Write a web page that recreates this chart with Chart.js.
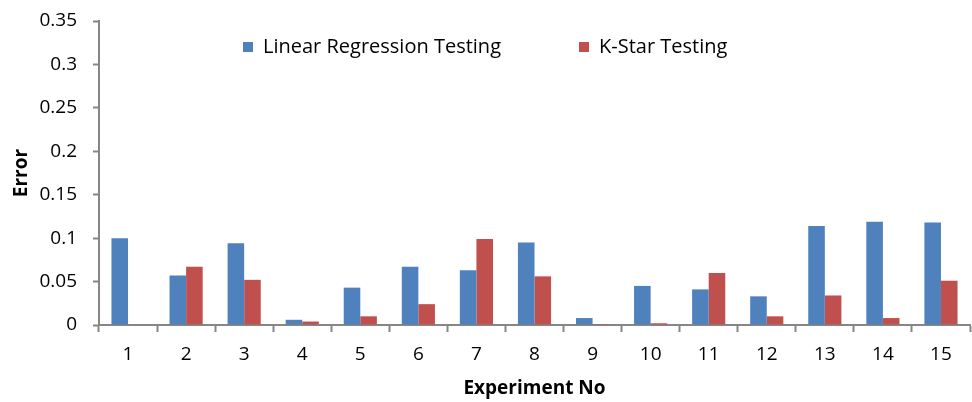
<!DOCTYPE html>
<html>
<head>
<meta charset="utf-8">
<script src="https://cdn.jsdelivr.net/npm/chart.js@4/dist/chart.umd.min.js"></script>
<style>
  html, body { margin: 0; padding: 0; background: #fff; }
  #wrap { width: 972px; height: 402px; position: relative; }
</style>
</head>
<body>
<div id="wrap"><canvas id="errorChart"></canvas></div>
<script>
// experiment numbers along the x axis
const experiments = ['1', '2', '3', '4', '5', '6', '7', '8', '9', '10', '11', '12', '13', '14', '15'];

// error values
const linearRegression = [0.100, 0.057, 0.094, 0.006, 0.043, 0.067, 0.063, 0.095, 0.008, 0.045, 0.041, 0.033, 0.114, 0.119, 0.118];
const kStar = [0, 0.067, 0.052, 0.004, 0.010, 0.024, 0.099, 0.056, 0.001, 0.002, 0.060, 0.010, 0.034, 0.008, 0.051];

const seriesNames = ['Linear Regression Testing', 'K-Star Testing'];
const yTicks = [0, 0.05, 0.1, 0.15, 0.2, 0.25, 0.3, 0.35];

const FONT = '"Open Sans", "DejaVu Sans", sans-serif';
const AXIS_GREY = '#868686';

// legend floats inside the plot: it takes no layout space, then gets moved
const legendPlacer = {
    id: 'legendPlacer',
    beforeLayout(chart) {
        const lg = chart.legend;
        if (lg && !lg._noSpace) {
            const origFit = lg.fit;
            lg.fit = function () {
                origFit.call(this);
                this._realHeight = this.height;
                this.height = 0;
            };
            lg._noSpace = true;
        }
    },
    afterLayout(chart) {
        const lg = chart.legend;
        const pad = lg.options.labels.padding;
        const w = lg.right - lg.left;
        lg.left = 243 - pad;
        lg.right = lg.left + w;
        lg.top = 37 - pad;
        lg.bottom = lg.top + lg._realHeight;
    }
};

new Chart(document.getElementById('errorChart').getContext('2d'), {
    type: 'bar',
    data: {
        labels: experiments,
        datasets: [
            {
                label: seriesNames[0],
                data: linearRegression,
                backgroundColor: '#4F81BD',
                borderWidth: 0
            },
            {
                label: seriesNames[1],
                data: kStar,
                backgroundColor: '#C0504D',
                borderWidth: 0
            }
        ]
    },
    options: {
        responsive: true,
        maintainAspectRatio: false,
        animation: false,
        layout: { padding: { top: 21, right: 2, left: 0, bottom: 0 } },
        datasets: {
            bar: { categoryPercentage: 0.571, barPercentage: 1.0 }
        },
        scales: {
            x: {
                offset: true,
                grid: {
                    display: true,
                    offset: true,
                    drawOnChartArea: false,
                    drawTicks: true,
                    tickLength: 7,
                    tickColor: AXIS_GREY,
                    tickWidth: 2
                },
                border: { display: true, color: AXIS_GREY, width: 2 },
                ticks: {
                    color: '#000',
                    padding: 11,
                    font: { family: FONT, size: 19 },
                    maxRotation: 0
                },
                title: {
                    display: true,
                    text: 'Experiment No',
                    color: '#000',
                    font: { family: FONT, size: 19, weight: 'bold' },
                    padding: { top: 8, bottom: 2 }
                },
                afterFit(scale) { scale.height = 77; }
            },
            y: {
                min: 0,
                max: 0.35,
                afterBuildTicks(scale) {
                    scale.ticks = yTicks.map(v => ({ value: v }));
                },
                grid: {
                    display: true,
                    drawOnChartArea: false,
                    drawTicks: true,
                    tickLength: 6,
                    tickColor: AXIS_GREY,
                    tickWidth: 2
                },
                border: { display: true, color: AXIS_GREY, width: 2 },
                ticks: {
                    color: '#000',
                    padding: 16,
                    font: { family: FONT, size: 19 },
                    callback: v => String(+v.toFixed(2))
                },
                title: {
                    display: true,
                    text: 'Error',
                    color: '#000',
                    font: { family: FONT, size: 19, weight: 'bold' },
                    padding: { top: 10, bottom: 0 }
                },
                afterFit(scale) {
                    scale.width = 99;
                    scale.paddingTop = 0;
                    scale.paddingBottom = 0;
                }
            }
        },
        plugins: {
            legend: {
                position: 'top',
                align: 'start',
                labels: {
                    boxWidth: 10,
                    boxHeight: 10,
                    padding: 78,
                    color: '#000',
                    font: { family: FONT, size: 20 }
                }
            },
            tooltip: { enabled: false }
        }
    },
    plugins: [legendPlacer]
});
</script>
</body>
</html>
